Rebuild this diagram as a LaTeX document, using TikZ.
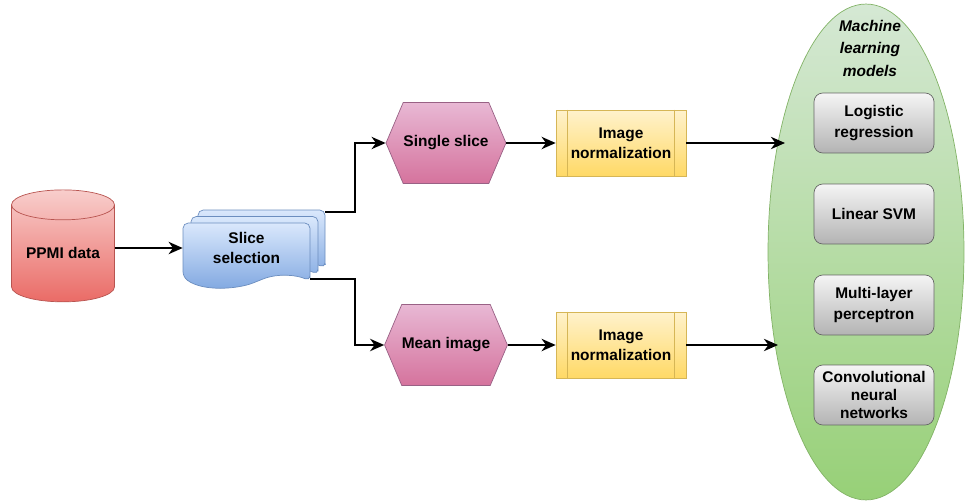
\documentclass[tikz,border=0pt]{standalone}
\usepackage{fontspec}
\setmainfont{Liberation Sans}
\usepackage{xcolor}
\usetikzlibrary{shapes.geometric}
\usetikzlibrary{shapes.symbols}
\usetikzlibrary{arrows.meta}

\definecolor{cyltop}{HTML}{F8CECC}
\definecolor{cylbot}{HTML}{EA6B66}
\definecolor{cylline}{HTML}{B85450}
\definecolor{doctop}{HTML}{DAE8FC}
\definecolor{docbot}{HTML}{7EA6E0}
\definecolor{docline}{HTML}{6C8EBF}
\definecolor{hextop}{HTML}{E8B8D4}
\definecolor{hexbot}{HTML}{D5739D}
\definecolor{hexline}{HTML}{996185}
\definecolor{normtop}{HTML}{FFF2CC}
\definecolor{normbot}{HTML}{FFD966}
\definecolor{normline}{HTML}{D6B656}
\definecolor{elltop}{HTML}{D5E8D4}
\definecolor{ellbot}{HTML}{97D077}
\definecolor{ellline}{HTML}{82B366}
\definecolor{modeltop}{HTML}{F5F5F5}
\definecolor{modelbot}{HTML}{B3B3B3}
\definecolor{modelline}{HTML}{666666}

% one sheet of the stacked slices, shifted by (#1,#2)
\newcommand{\slicesheet}[2]{%
  \draw[docsheet, shift={(#1,#2)}] (310,281) -- (310,223) -- (183,223) -- (183,277)
      .. controls (203,292) and (238,289) .. (258,281)
      .. controls (278,273) and (297,275) .. (310,281) -- cycle;}

\begin{document}
\begin{tikzpicture}[x=0.02cm, y=-0.02cm,
        every node/.style={font=\fontsize{8.8}{11.5}\selectfont\bfseries, align=center},
        flow/.style={-{Stealth[length=8pt,width=7pt,inset=2.5pt]}, line width=1.1pt},
        datastore/.style={cylinder, shape border rotate=90, aspect=0.35, draw=cylline,
            top color=cyltop, bottom color=cylbot, minimum width=2.06cm, minimum height=2.24cm},
        docsheet/.style={draw=docline, top color=doctop, bottom color=docbot, rounded corners=3pt},
        hexa/.style={signal, signal to=east and west, signal pointer angle=134, draw=hexline,
            top color=hextop, bottom color=hexbot, minimum width=2.4cm, minimum height=1.62cm, inner sep=0pt},
        normbox/.style={rectangle, draw=normline, top color=normtop, bottom color=normbot,
            minimum width=2.6cm, minimum height=1.32cm, inner sep=0pt},
        model/.style={rectangle, rounded corners=5pt, draw=modelline, top color=modeltop,
            bottom color=modelbot, minimum width=2.4cm, minimum height=1.2cm, inner sep=0pt}]

        \useasboundingbox (0,0) rectangle (966,503);

        % models
        \node[ellipse, draw=ellline, top color=elltop, bottom color=ellbot,
            minimum width=3.92cm, minimum height=9.92cm, inner sep=0pt] (mlm) at (866,252) {};
        \node[font=\fontsize{8.8}{12.8}\selectfont\bfseries\itshape] (mltitle) at (870,48)
            {Machine\\learning\\models};
        \node[model] (logreg) at (874,123) {Logistic\\regression};
        \node[model] (svm) at (874,214) {Linear SVM};
        \node[model] (mlp) at (874,305) {Multi-layer\\perceptron};
        \node[model, font=\fontsize{8.8}{10.2}\selectfont\bfseries] (cnn) at (874,395)
            {Convolutional\\neural\\networks};

        % data and slices
        \node[datastore] (ppmi) at (63,257) {\raisebox{0.15cm}{PPMI data}};

        \slicesheet{15}{-13}
        \slicesheet{8}{-6.5}
        \slicesheet{0}{0}
        \node[minimum width=2.54cm, minimum height=1.16cm, inner sep=0pt] (slice) at (246.5,248)
            {Slice\\selection};
        \coordinate (slicetop) at (325,212);
        \coordinate (slicebot) at (310,279);

        % two branches
        \node[hexa] (single) at (446,143) {Single slice};
        \node[hexa] (mean) at (446,345) {Mean image};
        \node[normbox] (norm1) at (621,143) {Image\\normalization};
        \node[normbox] (norm2) at (621,345) {Image\\normalization};
        \draw[normline] ([xshift=0.24cm]norm1.north west) -- ([xshift=0.24cm]norm1.south west)
            ([xshift=-0.24cm]norm1.north east) -- ([xshift=-0.24cm]norm1.south east);
        \draw[normline] ([xshift=0.24cm]norm2.north west) -- ([xshift=0.24cm]norm2.south west)
            ([xshift=-0.24cm]norm2.north east) -- ([xshift=-0.24cm]norm2.south east);

        \coordinate (in1) at (785,143);
        \coordinate (in2) at (778,345);

        % connectors
        \draw[flow] (ppmi.east |- slice.west) -- (slice.west);
        \draw[flow] (slicetop) -- ++(30,0) |- (single.west);
        \draw[flow] (slicebot) -- ++(45,0) |- (mean.west);
        \draw[flow] (single.east) -- (norm1.west);
        \draw[flow] (mean.east) -- (norm2.west);
        \draw[flow] (norm1.east) -- (in1);
        \draw[flow] (norm2.east) -- (in2);
\end{tikzpicture}
\end{document}
